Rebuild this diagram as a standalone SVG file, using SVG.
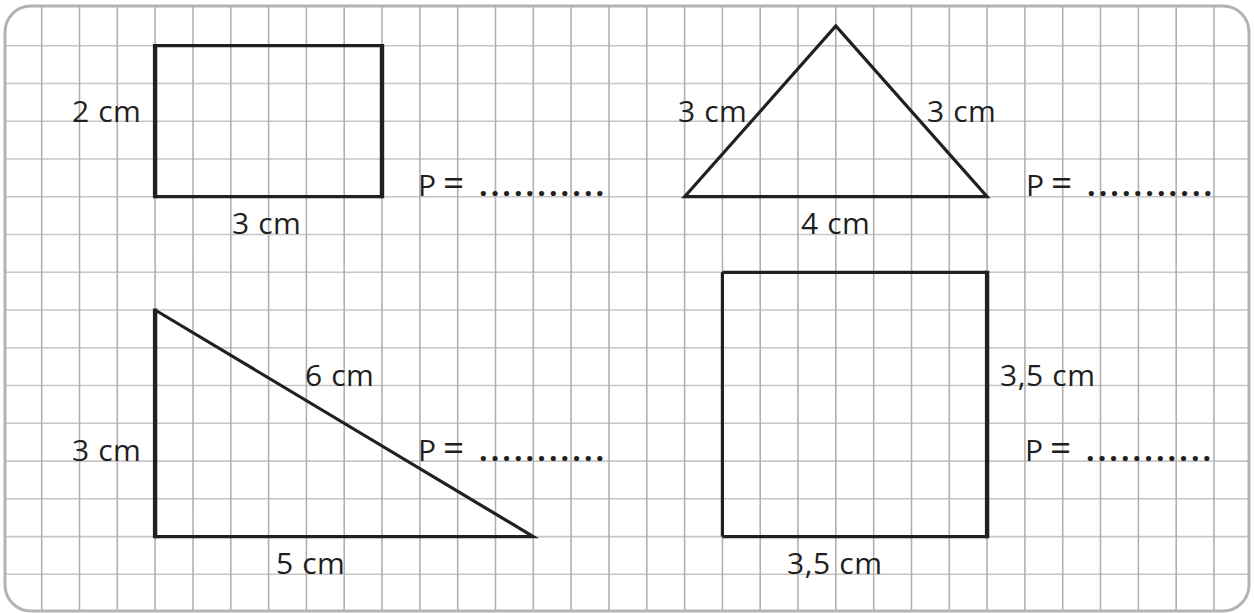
<svg xmlns="http://www.w3.org/2000/svg" width="1254" height="613" viewBox="0 0 1254 613">
<style>
.grid{fill:none;stroke:#b1b1b3;stroke-width:1.6}
.gridh{fill:none;stroke:#c6c6c8;stroke-width:1.6}
.shape{fill:none;stroke:#231f20;stroke-width:3.2;stroke-linejoin:miter}
.thick{stroke:#231f20;stroke-width:4.4}
text{font-family:"Open Sans","Noto Sans",sans-serif;font-size:30px;font-weight:500;letter-spacing:0.6px;fill:#231f20}
.eq{font-size:37px}
.dots{letter-spacing:3.1px;font-weight:700}
</style>
<defs>
<clipPath id="clip"><rect x="5" y="6" width="1244" height="605" rx="26"/></clipPath>
</defs>
<rect width="1254" height="613" fill="#ffffff"/>
<g id="grid" clip-path="url(#clip)">
<path class="gridh" d="M0 45.7H1254M0 83.5H1254M0 121.2H1254M0 159H1254M0 196.7H1254M0 234.5H1254M0 272.3H1254M0 310H1254M0 347.8H1254M0 385.5H1254M0 423.3H1254M0 461.1H1254M0 498.8H1254M0 536.6H1254M0 574.3H1254"/>
<path class="grid" d="M41.7 0V613M79.5 0V613M117.3 0V613M155.1 0V613M193 0V613M230.8 0V613M268.6 0V613M306.4 0V613M344.2 0V613M382 0V613M419.9 0V613M457.7 0V613M495.5 0V613M533.3 0V613M571.1 0V613M609 0V613M646.8 0V613M684.6 0V613M722.4 0V613M760.2 0V613M798 0V613M835.8 0V613M873.7 0V613M911.5 0V613M949.3 0V613M987.1 0V613M1024.9 0V613M1062.7 0V613M1100.5 0V613M1138.4 0V613M1176.2 0V613M1214 0V613"/>
</g>
<rect id="border" x="5" y="6" width="1244" height="605" rx="26" fill="none" stroke="#b3b3b5" stroke-width="3"/>

<g id="rectangle">
<path class="shape" d="M155.1 45.7H382M155.1 196.7H382"/>
<path class="thick" d="M155.1 44.1V198.3M382 44.1V198.3"/>
<text x="72" y="121.5">2 cm</text>
<text x="232" y="234">3 cm</text>
<text x="418" y="196">P<tspan class="eq" x="443">=</tspan><tspan class="dots" x="479">...........</tspan></text>
</g>

<g id="isosceles-triangle">
<path class="shape" d="M684.6 196.7L835.8 26L987.1 196.7Z"/>
<text x="678" y="121.5">3 cm</text>
<text x="927" y="121.5">3 cm</text>
<text x="801" y="234">4 cm</text>
<text x="1026" y="196">P<tspan class="eq" x="1051">=</tspan><tspan class="dots" x="1087">...........</tspan></text>
</g>

<g id="right-triangle">
<path class="shape" d="M155.1 310L533.3 536.6H155.1"/>
<path class="thick" d="M155.1 308.4V538.2"/>
<text x="305" y="386">6 cm</text>
<text x="72" y="460.5">3 cm</text>
<text x="276" y="574">5 cm</text>
<text x="418" y="460.5">P<tspan class="eq" x="443">=</tspan><tspan class="dots" x="479">...........</tspan></text>
</g>

<g id="square">
<path class="shape" d="M722.4 272.3H987.1M722.4 536.6H987.1M722.4 272.3V536.6"/>
<path class="thick" d="M987.1 270.7V538.2"/>
<text x="1000" y="386">3,5 cm</text>
<text x="787" y="574">3,5 cm</text>
<text x="1025" y="460.5">P<tspan class="eq" x="1050">=</tspan><tspan class="dots" x="1086">...........</tspan></text>
</g>
</svg>
